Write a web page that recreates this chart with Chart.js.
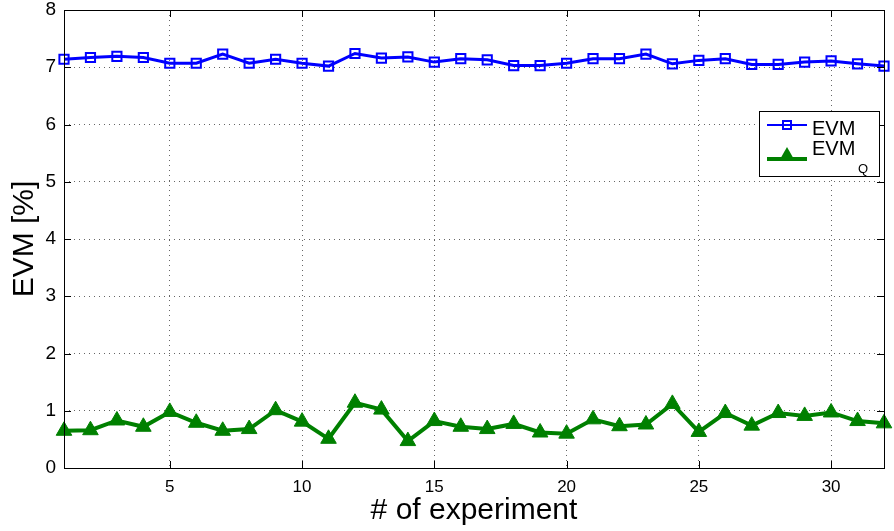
<!DOCTYPE html>
<html>
<head>
<meta charset="utf-8">
<script src="https://cdn.jsdelivr.net/npm/chart.js@4/dist/chart.umd.min.js"></script>
<style>
  html, body { margin: 0; padding: 0; background: #fff; }
  #wrap { width: 894px; height: 531px; position: relative; }
</style>
</head>
<body>
<div id="wrap"><canvas id="evmChart"></canvas></div>
<script>
// experiment numbers 1..32
const experiments = [1, 2, 3, 4, 5, 6, 7, 8, 9, 10, 11, 12, 13, 14, 15, 16,
                     17, 18, 19, 20, 21, 22, 23, 24, 25, 26, 27, 28, 29, 30, 31, 32];

const evmValues = [7.14, 7.17, 7.19, 7.17, 7.07, 7.07, 7.23, 7.07, 7.14, 7.07, 7.02, 7.24, 7.16, 7.18, 7.09, 7.15,
                   7.13, 7.03, 7.03, 7.07, 7.15, 7.15, 7.23, 7.06, 7.12, 7.15, 7.05, 7.05, 7.09, 7.11, 7.06, 7.02];

const evmQValues = [0.65, 0.66, 0.83, 0.72, 0.98, 0.79, 0.65, 0.68, 1.01, 0.81, 0.51, 1.14, 1.02, 0.47, 0.82, 0.72,
                    0.68, 0.77, 0.62, 0.60, 0.85, 0.73, 0.76, 1.12, 0.63, 0.96, 0.74, 0.96, 0.91, 0.97, 0.82, 0.78];

const xTicks = [5, 10, 15, 20, 25, 30];
const FONT = '"Liberation Sans", Arial, sans-serif';

// MATLAB style: box, inward tick marks, legend with subscript
const matlabBox = {
    id: 'matlabBox',
    afterDatasetsDraw(chart) {
        const { ctx, chartArea: a, scales } = chart;
        ctx.save();
        ctx.strokeStyle = '#000';
        ctx.lineWidth = 1;
        ctx.beginPath();
        xTicks.forEach(v => {
            const x = Math.round(scales.x.getPixelForValue(v)) + 0.5;
            ctx.moveTo(x, a.bottom); ctx.lineTo(x, a.bottom - 7);
            ctx.moveTo(x, a.top); ctx.lineTo(x, a.top + 7);
        });
        for (let v = 0; v <= 8; v++) {
            const y = Math.round(scales.y.getPixelForValue(v)) + 0.5;
            ctx.moveTo(a.left, y); ctx.lineTo(a.left + 7, y);
            ctx.moveTo(a.right, y); ctx.lineTo(a.right - 7, y);
        }
        ctx.stroke();
        ctx.strokeRect(Math.round(a.left) + 0.5, Math.round(a.top) + 0.5,
                       Math.round(a.right - a.left), Math.round(a.bottom - a.top));

        // legend
        const lx = 759.5, ly = 111.5, lw = 120, lh = 65;
        ctx.fillStyle = '#fff';
        ctx.fillRect(lx, ly, lw, lh);
        ctx.strokeRect(lx, ly, lw, lh);

        ctx.strokeStyle = '#0000ff';
        ctx.lineWidth = 2;
        ctx.beginPath(); ctx.moveTo(767, 125); ctx.lineTo(807, 125); ctx.stroke();
        ctx.strokeRect(783, 121, 8, 8);

        ctx.strokeStyle = '#008000';
        ctx.fillStyle = '#008000';
        ctx.lineWidth = 4;
        ctx.beginPath(); ctx.moveTo(767, 159); ctx.lineTo(807, 159); ctx.stroke();
        ctx.beginPath(); ctx.moveTo(787, 147); ctx.lineTo(795, 161); ctx.lineTo(779, 161); ctx.closePath(); ctx.fill();

        ctx.fillStyle = '#000';
        ctx.textBaseline = 'alphabetic';
        ctx.font = '20px ' + FONT;
        ctx.fillText('EVM', 812, 135);
        ctx.fillText('EVM', 812, 155);
        ctx.font = '13px ' + FONT;
        ctx.fillText('Q', 858, 173);
        ctx.restore();
    }
};

const ctx = document.getElementById('evmChart').getContext('2d');
const chart = new Chart(ctx, {
    type: 'line',
    data: {
        datasets: [
            {
                label: 'EVM',
                data: experiments.map((x, i) => ({ x: x, y: evmValues[i] })),
                borderColor: '#0000ff',
                borderWidth: 3,
                pointStyle: 'rect',
                pointRadius: 6.5,
                pointBorderWidth: 2,
                pointBorderColor: '#0000ff',
                pointBackgroundColor: 'rgba(255,255,255,0)',
                tension: 0
            },
            {
                label: 'EVM_Q',
                data: experiments.map((x, i) => ({ x: x, y: evmQValues[i] })),
                borderColor: '#008000',
                borderWidth: 4,
                pointStyle: 'triangle',
                pointRadius: 9,
                pointBorderWidth: 1,
                pointBorderColor: '#008000',
                pointBackgroundColor: '#008000',
                tension: 0
            }
        ]
    },
    options: {
        responsive: true,
        maintainAspectRatio: false,
        animation: false,
        clip: false,
        layout: { padding: { top: 6, right: 8, left: 0, bottom: 0 } },
        plugins: {
            legend: { display: false },
            tooltip: { enabled: false }
        },
        scales: {
            x: {
                type: 'linear',
                min: 1,
                max: 32,
                afterBuildTicks: scale => { scale.ticks = xTicks.map(v => ({ value: v })); },
                afterFit: scale => {
                    scale.height = 63;
                    scale.paddingLeft = 0;
                    scale.paddingRight = 0;
                },
                grid: { color: '#666', drawTicks: false },
                border: { display: false, dash: [1, 4] },
                ticks: { color: '#000', padding: 9, font: { family: FONT, size: 17 }, maxRotation: 0 },
                title: {
                    display: true,
                    text: '# of experiment',
                    color: '#000',
                    padding: { top: 0, bottom: 2 },
                    font: { family: FONT, size: 30 }
                }
            },
            y: {
                min: 0,
                max: 8,
                afterFit: scale => {
                    scale.width = 64;
                    scale.paddingTop = 0;
                    scale.paddingBottom = 0;
                },
                grid: { color: '#666', drawTicks: false },
                border: { display: false, dash: [1, 4] },
                ticks: { stepSize: 1, color: '#000', padding: 8, font: { family: FONT, size: 19 } },
                title: {
                    display: true,
                    text: 'EVM [%]',
                    color: '#000',
                    padding: { top: 7, bottom: 0 },
                    font: { family: FONT, size: 30 }
                }
            }
        }
    },
    plugins: [matlabBox]
});
</script>
</body>
</html>
